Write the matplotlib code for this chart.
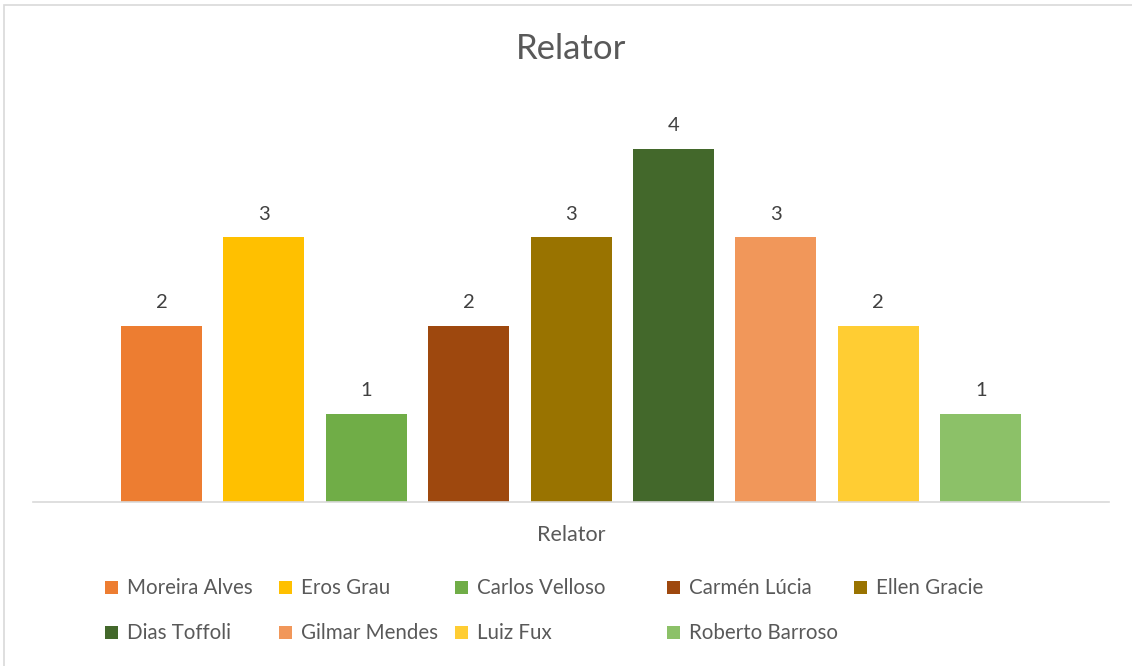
import matplotlib
matplotlib.use("Agg")
import matplotlib.pyplot as plt
from matplotlib.patches import Rectangle

# Data
names = ["Moreira Alves", "Eros Grau", "Carlos Velloso", "Carmén Lúcia", "Ellen Gracie",
         "Dias Toffoli", "Gilmar Mendes", "Luiz Fux", "Roberto Barroso"]
values = [2, 3, 1, 2, 3, 4, 3, 2, 1]
colors = ["#ED7D31", "#FFC000", "#70AD47", "#9E480E", "#997300",
          "#43682B", "#F1975A", "#FFCD33", "#8CC168"]
title = "Relator"
xlabel = "Relator"

W, H = 1132, 666
fig = plt.figure(figsize=(W / 100, H / 100), dpi=100)
fig.patch.set_facecolor("white")
plt.rcParams["font.family"] = ["Lato", "DejaVu Sans"]
txt = "#595959"

# axes in pixel coords
left, right, top, bottom = 33, 1109, 95, 502
ax = fig.add_axes([left / W, 1 - bottom / H, (right - left) / W, (bottom - top) / H])
ax.set_facecolor("none")

x = list(range(len(values)))
bars = ax.bar(x, values, width=0.79, color=colors)
ax.set_xlim(-1.255, 9.253)
ax.set_ylim(0, (bottom - top) / 88.25)
ax.bar_label(bars, padding=10.5, fontsize=14.5, color="#404040")

for s in ["top", "right", "left"]:
    ax.spines[s].set_visible(False)
ax.spines["bottom"].set_color("#d9d9d9")
ax.spines["bottom"].set_linewidth(1.2)
ax.set_xticks([])
ax.set_yticks([])

fig.text(571 / W, 1 - 49 / H, title, ha="center", va="center", fontsize=25, color=txt)
fig.text(571 / W, 1 - 535 / H, xlabel, ha="center", va="center", fontsize=15.5, color=txt)

# legend (manual placement)
col_x = [111, 285, 461, 673, 860]
row_y = [587, 632]
sq = 13
for i, (n, c) in enumerate(zip(names, colors)):
    r, k = divmod(i, 5)
    px, py = col_x[k], row_y[r]
    fig.patches.append(Rectangle(((px - sq / 2) / W, 1 - (py + sq / 2) / H), sq / W, sq / H,
                                 transform=fig.transFigure, facecolor=c, edgecolor="none"))
    fig.text((px + 16) / W, 1 - (py + 1) / H, n, ha="left", va="center", fontsize=14.8, color=txt)

# chart border
fig.patches.append(Rectangle((4 / W, -0.01), 1.02, 1 - 5 / H + 0.01, transform=fig.transFigure,
                             facecolor="none", edgecolor="#d9d9d9", linewidth=1.2))

fig.savefig("out.png", dpi=100)
